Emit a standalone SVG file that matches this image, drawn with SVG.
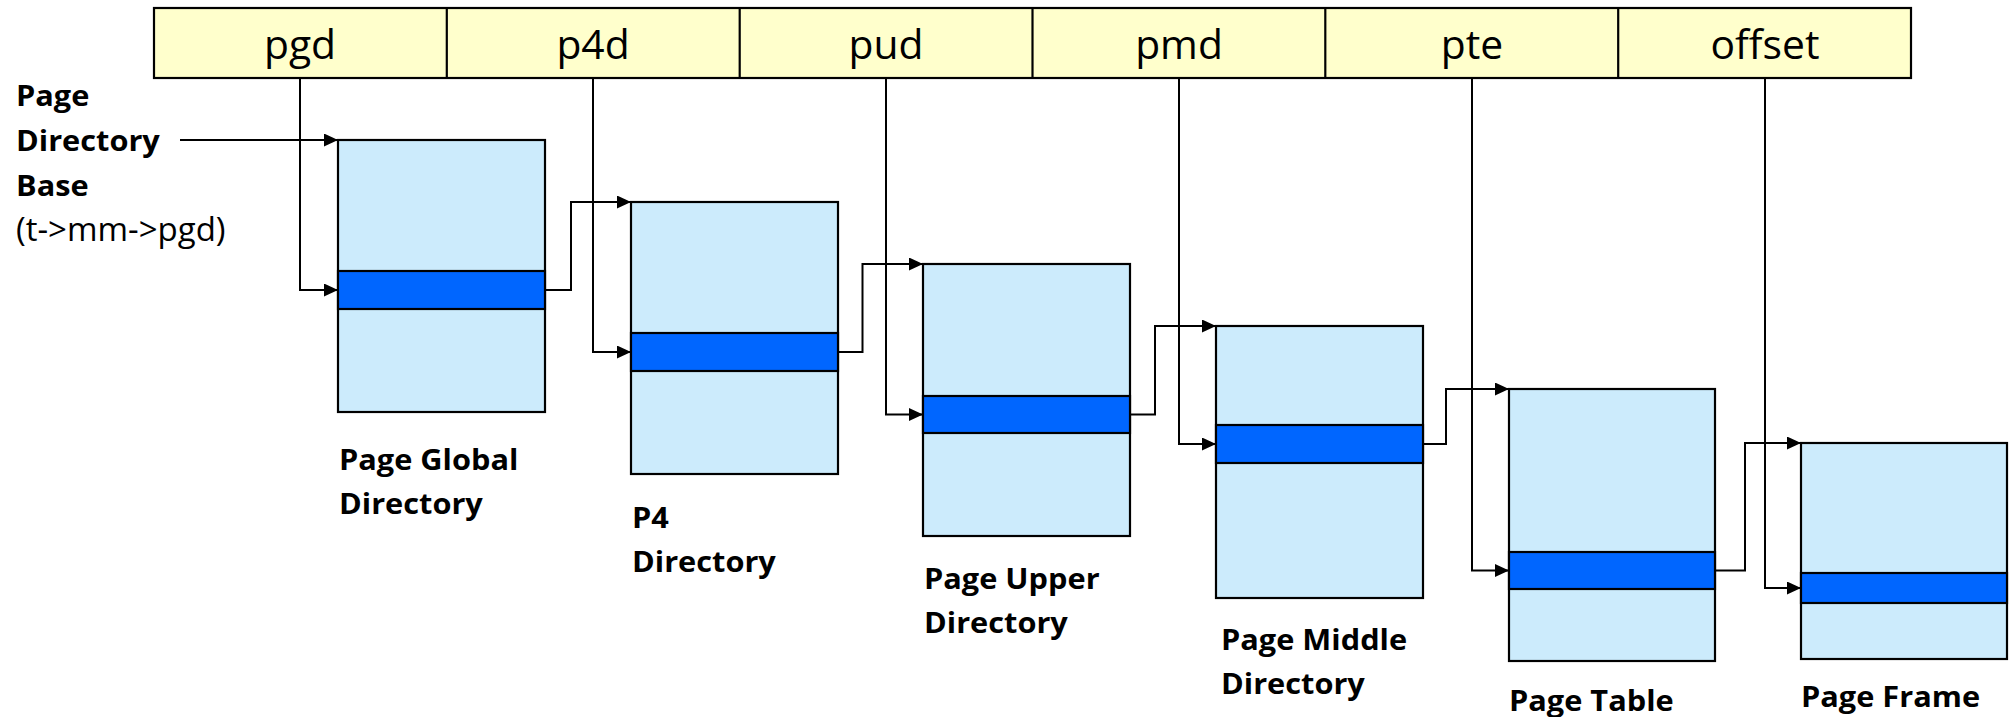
<svg xmlns="http://www.w3.org/2000/svg" width="2010" height="717" viewBox="0 0 2010 717">
<style>
.bar{fill:#FFFFCC;stroke:#000;stroke-width:2.2}
.div{stroke:#000;stroke-width:2.2}
.cell{font-family:"Open Sans","Noto Sans",sans-serif;font-size:40px;fill:#000;text-anchor:middle}
.box{fill:#CCEBFC;stroke:#000;stroke-width:2.2}
.band{fill:#0066FF;stroke:#000;stroke-width:2.2}
.lbl{font-family:"Open Sans","Noto Sans",sans-serif;font-size:29px;font-weight:bold;fill:#000}
.reg{font-family:"Open Sans","Noto Sans",sans-serif;font-size:33px;fill:#000}
.con{fill:none;stroke:#000;stroke-width:2;marker-end:url(#arr)}
</style>
<defs>
<marker id="arr" markerUnits="userSpaceOnUse" markerWidth="14" markerHeight="13" refX="14" refY="6.5" orient="auto">
<path d="M0,0 L14,6.5 L0,13 z" fill="#000"/>
</marker>
</defs>
<g id="address">
<rect class="bar" x="154" y="8" width="1757" height="70"/>
<line class="div" x1="446.8" y1="8" x2="446.8" y2="78"/>
<line class="div" x1="739.7" y1="8" x2="739.7" y2="78"/>
<line class="div" x1="1032.5" y1="8" x2="1032.5" y2="78"/>
<line class="div" x1="1325.3" y1="8" x2="1325.3" y2="78"/>
<line class="div" x1="1618.2" y1="8" x2="1618.2" y2="78"/>
<text class="cell" transform="translate(300,59) scale(1.02,1)">pgd</text>
<text class="cell" transform="translate(593,59) scale(1.02,1)">p4d</text>
<text class="cell" transform="translate(886,59) scale(1.02,1)">pud</text>
<text class="cell" transform="translate(1179,59) scale(1.02,1)">pmd</text>
<text class="cell" transform="translate(1472,59) scale(1.02,1)">pte</text>
<text class="cell" transform="translate(1765,59) scale(1.02,1)">offset</text>
</g>
<g id="base-label">
<text class="lbl" transform="translate(16,0) scale(1.06,1)"><tspan x="0" y="106.5">Page</tspan><tspan x="0" y="151">Directory</tspan><tspan x="0" y="196">Base</tspan></text>
<text class="reg" x="16" y="241">(t-&gt;mm-&gt;pgd)</text>
</g>
<g id="pgd-table">
<rect class="box" x="338" y="140" width="207" height="272"/>
<rect class="band" x="338" y="271" width="207" height="38"/>
<text class="lbl" transform="translate(339,470) scale(1.06,1)"><tspan x="0" y="0">Page Global</tspan><tspan x="0" y="44">Directory</tspan></text>
</g>
<g id="p4d-table">
<rect class="box" x="631" y="202" width="207" height="272"/>
<rect class="band" x="631" y="333" width="207" height="38"/>
<text class="lbl" transform="translate(632,528) scale(1.06,1)"><tspan x="0" y="0">P4</tspan><tspan x="0" y="44">Directory</tspan></text>
</g>
<g id="pud-table">
<rect class="box" x="923" y="264" width="207" height="272"/>
<rect class="band" x="923" y="396" width="207" height="37"/>
<text class="lbl" transform="translate(924,589) scale(1.06,1)"><tspan x="0" y="0">Page Upper</tspan><tspan x="0" y="44">Directory</tspan></text>
</g>
<g id="pmd-table">
<rect class="box" x="1216" y="326" width="207" height="272"/>
<rect class="band" x="1216" y="425" width="207" height="38"/>
<text class="lbl" transform="translate(1221,650) scale(1.06,1)"><tspan x="0" y="0">Page Middle</tspan><tspan x="0" y="44">Directory</tspan></text>
</g>
<g id="page-table">
<rect class="box" x="1509" y="389" width="206" height="272"/>
<rect class="band" x="1509" y="552" width="206" height="37"/>
<text class="lbl" transform="translate(1509,711) scale(1.06,1)">Page Table</text>
</g>
<g id="page-frame">
<rect class="box" x="1801" y="443" width="206" height="216"/>
<rect class="band" x="1801" y="573" width="206" height="30"/>
<text class="lbl" transform="translate(1801,707) scale(1.06,1)">Page Frame</text>
</g>
<g id="connectors">
<path class="con" d="M180,140 H338"/>
<path class="con" d="M300,78 V290 H338"/>
<path class="con" d="M545,290 H571 V202 H631"/>
<path class="con" d="M593,78 V352 H631"/>
<path class="con" d="M838,352 H862.5 V264 H923"/>
<path class="con" d="M886,78 V414.5 H923"/>
<path class="con" d="M1130,414.5 H1155 V326 H1216"/>
<path class="con" d="M1179,78 V444 H1216"/>
<path class="con" d="M1423,444 H1446 V389 H1509"/>
<path class="con" d="M1472,78 V570.5 H1509"/>
<path class="con" d="M1715,570.5 H1745 V443 H1801"/>
<path class="con" d="M1765,78 V588 H1801"/>
</g>
</svg>
